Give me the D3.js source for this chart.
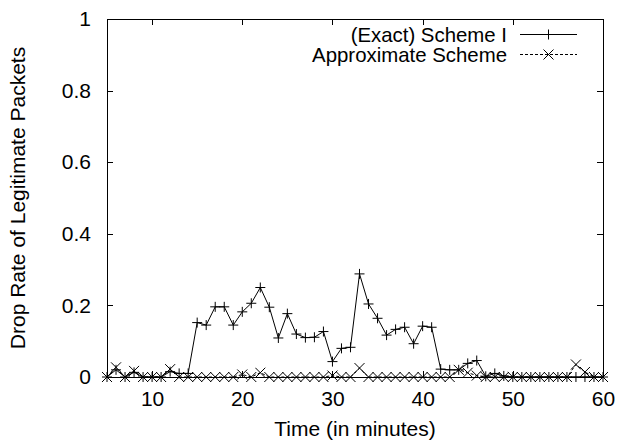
<!DOCTYPE html>
<html>
<head>
<meta charset="utf-8">
<script src="https://cdn.jsdelivr.net/npm/d3@7"></script>
<style>
  body { margin: 0; background: #fff; }
  text { font-family: "Liberation Sans", Arial, sans-serif; font-size: 21px; fill: #000; }
</style>
</head>
<body>
<div id="chart"></div>
<script>
var svgWidth = 621;
var svgHeight = 443;

var margin = { top: 19, right: 18, bottom: 66, left: 107 };
var width = svgWidth - margin.left - margin.right;
var height = svgHeight - margin.top - margin.bottom;

// time in minutes (one sample per minute)
var minutes = [5, 6, 7, 8, 9, 10, 11, 12, 13, 14, 15, 16, 17, 18, 19, 20,
  21, 22, 23, 24, 25, 26, 27, 28, 29, 30, 31, 32, 33, 34, 35, 36, 37, 38, 39, 40,
  41, 42, 43, 44, 45, 46, 47, 48, 49, 50, 51, 52, 53, 54, 55, 56, 57, 58, 59, 60];

var exactScheme = [0, 0.02, 0, 0.013, 0, 0, 0, 0.015, 0.01, 0.01, 0.152, 0.145, 0.196, 0.196, 0.145, 0.182,
  0.206, 0.25, 0.195, 0.109, 0.177, 0.12, 0.11, 0.111, 0.127, 0.043, 0.08, 0.083, 0.288, 0.204, 0.164, 0.117, 0.133, 0.139, 0.093, 0.142,
  0.139, 0.022, 0.02, 0.02, 0.038, 0.046, 0.002, 0.01, 0.003, 0, 0, 0, 0, 0, 0, 0, 0, 0, 0, 0];

var approxScheme = [0, 0.027, 0, 0.017, 0, 0, 0, 0.022, 0, 0, 0, 0, 0, 0, 0, 0.007,
  0, 0.012, 0, 0, 0, 0, 0, 0, 0, 0.004, 0, 0, 0.025, 0, 0, 0, 0, 0, 0, 0,
  0, 0, 0, 0.02, 0.012, 0.004, 0, 0, 0, 0, 0, 0, 0, 0, 0, 0, 0.035, 0.014, 0, 0];

var xTicks = [10, 20, 30, 40, 50, 60];
var yTicks = [0, 0.2, 0.4, 0.6, 0.8, 1];

var legendLabels = ["(Exact) Scheme I", "Approximate Scheme"];

var svg = d3.select("#chart")
  .append("svg")
  .attr("width", svgWidth)
  .attr("height", svgHeight);

var chartGroup = svg.append("g")
  .attr("transform", `translate(${margin.left}, ${margin.top})`);

var xScale = d3.scaleLinear().domain([5, 60]).range([0, width]);
var yScale = d3.scaleLinear().domain([0, 1]).range([height, 0]);

// axes: ticks point inward, mirrored on top and right
var bottomAxis = d3.axisBottom(xScale).tickValues(xTicks).tickSize(-6).tickPadding(14).tickFormat(d3.format("d"));
var topAxis = d3.axisTop(xScale).tickValues(xTicks).tickSize(-6).tickFormat("");
var leftAxis = d3.axisLeft(yScale).tickValues(yTicks).tickSize(-6).tickPadding(16).tickFormat(d => d === 0 || d === 1 ? d : d3.format(".1f")(d));
var rightAxis = d3.axisRight(yScale).tickValues(yTicks).tickSize(-6).tickFormat("");

function styleAxis(g) {
  g.select(".domain").remove();
  g.selectAll("line").attr("stroke", "#000").attr("shape-rendering", "crispEdges");
  g.selectAll("text").attr("font-size", "21px").attr("font-family", null).attr("fill", "#000");
}

chartGroup.append("g").attr("transform", `translate(0, ${height})`).call(bottomAxis).call(styleAxis);
chartGroup.append("g").call(topAxis).call(styleAxis);
chartGroup.append("g").call(leftAxis).call(styleAxis);
chartGroup.append("g").attr("transform", `translate(${width}, 0)`).call(rightAxis).call(styleAxis);

chartGroup.append("rect")
  .attr("x", 0).attr("y", 0)
  .attr("width", width).attr("height", height)
  .attr("fill", "none")
  .attr("stroke", "#000")
  .attr("shape-rendering", "crispEdges");

var plusPath = "M-5,0H5M0,-5V5";
var crossPath = "M-5,-5L5,5M-5,5L5,-5";

var line = d3.line()
  .x(d => xScale(d[0]))
  .y(d => yScale(d[1]));

var exactData = minutes.map((m, i) => [m, exactScheme[i]]);
var approxData = minutes.map((m, i) => [m, approxScheme[i]]);

// approximate scheme (dashed, x markers)
chartGroup.append("path")
  .datum(approxData)
  .attr("d", line)
  .attr("fill", "none")
  .attr("stroke", "#000")
  .attr("stroke-dasharray", "3,2");

chartGroup.selectAll(".approx")
  .data(approxData)
  .enter()
  .append("path")
  .attr("class", "approx")
  .attr("transform", d => `translate(${xScale(d[0])}, ${yScale(d[1])})`)
  .attr("d", crossPath)
  .attr("stroke", "#000")
  .attr("fill", "none");

// exact scheme (solid, + markers)
chartGroup.append("path")
  .datum(exactData)
  .attr("d", line)
  .attr("fill", "none")
  .attr("stroke", "#000");

chartGroup.selectAll(".exact")
  .data(exactData)
  .enter()
  .append("path")
  .attr("class", "exact")
  .attr("transform", d => `translate(${xScale(d[0])}, ${yScale(d[1])})`)
  .attr("d", plusPath)
  .attr("stroke", "#000")
  .attr("fill", "none");

// legend
var legend = svg.append("g");
legendLabels.forEach(function(label, i) {
  var cy = 34.5 + i * 20;
  legend.append("text")
    .attr("x", 507)
    .attr("y", cy + 7)
    .attr("text-anchor", "end")
    .style("font-size", "20.4px")
    .text(label);
  legend.append("line")
    .attr("x1", 520).attr("x2", 577)
    .attr("y1", cy).attr("y2", cy)
    .attr("stroke", "#000")
    .attr("stroke-dasharray", i === 0 ? null : "3,2");
  legend.append("path")
    .attr("transform", `translate(548.5, ${cy})`)
    .attr("d", i === 0 ? plusPath : crossPath)
    .attr("stroke", "#000")
    .attr("fill", "none");
});

// axis titles
svg.append("text")
  .attr("x", margin.left + width / 2)
  .attr("y", 436)
  .attr("text-anchor", "middle")
  .text("Time (in minutes)");

svg.append("text")
  .attr("transform", `translate(25, ${margin.top + height / 2}) rotate(-90)`)
  .attr("text-anchor", "middle")
  .text("Drop Rate of Legitimate Packets");
</script>
</body>
</html>
